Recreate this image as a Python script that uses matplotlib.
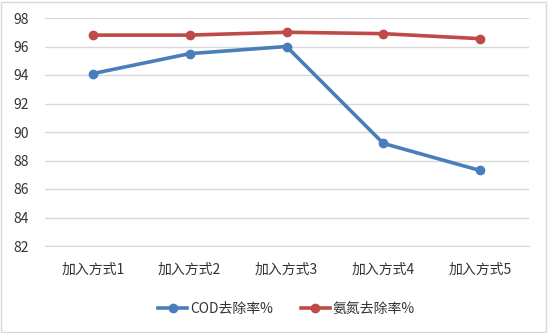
import matplotlib.pyplot as plt
from matplotlib.patches import Rectangle

plt.rcParams['font.family'] = ['Noto Sans CJK SC', 'DejaVu Sans']

categories = ['加入方式1', '加入方式2', '加入方式3', '加入方式4', '加入方式5']
cod = [94.1, 95.5, 96.0, 89.2, 87.3]
nh3 = [96.8, 96.8, 97.0, 96.9, 96.55]
yticks = [82, 84, 86, 88, 90, 92, 94, 96, 98]

fig = plt.figure(figsize=(5.48, 3.33), dpi=100)
ax = fig.add_axes([44.5 / 548, (333 - 246) / 333, 484 / 548, 228 / 333])

x = range(len(categories))
ax.plot(x, cod, color='#4a7ebb', lw=2.6, marker='o', ms=6, label='COD去除率%')
ax.plot(x, nh3, color='#be4b48', lw=2.6, marker='o', ms=6, label='氨氮去除率%')

ax.set_xlim(-0.5, len(categories) - 0.5)
ax.set_ylim(82, 98)
ax.set_yticks(yticks)
ax.set_xticks(list(x))
ax.set_xticklabels(categories)
ax.grid(axis='y', color='#d9d9d9', lw=1)
ax.set_axisbelow(True)
for s in ['top', 'right', 'left']:
    ax.spines[s].set_visible(False)
ax.spines['bottom'].set_color('#d9d9d9')
ax.tick_params(length=0, labelsize=10, colors='#333333')
ax.tick_params(axis='x', pad=12)
ax.tick_params(axis='y', pad=11)

ax.legend(loc='upper center', bbox_to_anchor=(0.5, -0.19), ncol=2, frameon=False,
          fontsize=10, handlelength=2.1, handletextpad=0.2, columnspacing=2.0,
          labelcolor='#333333')

fig.patches.append(Rectangle((0.002, 0.003), 0.994, 0.992, transform=fig.transFigure,
                             fill=False, edgecolor='#d9d9d9', lw=1))

fig.savefig('out.png', dpi=100)
